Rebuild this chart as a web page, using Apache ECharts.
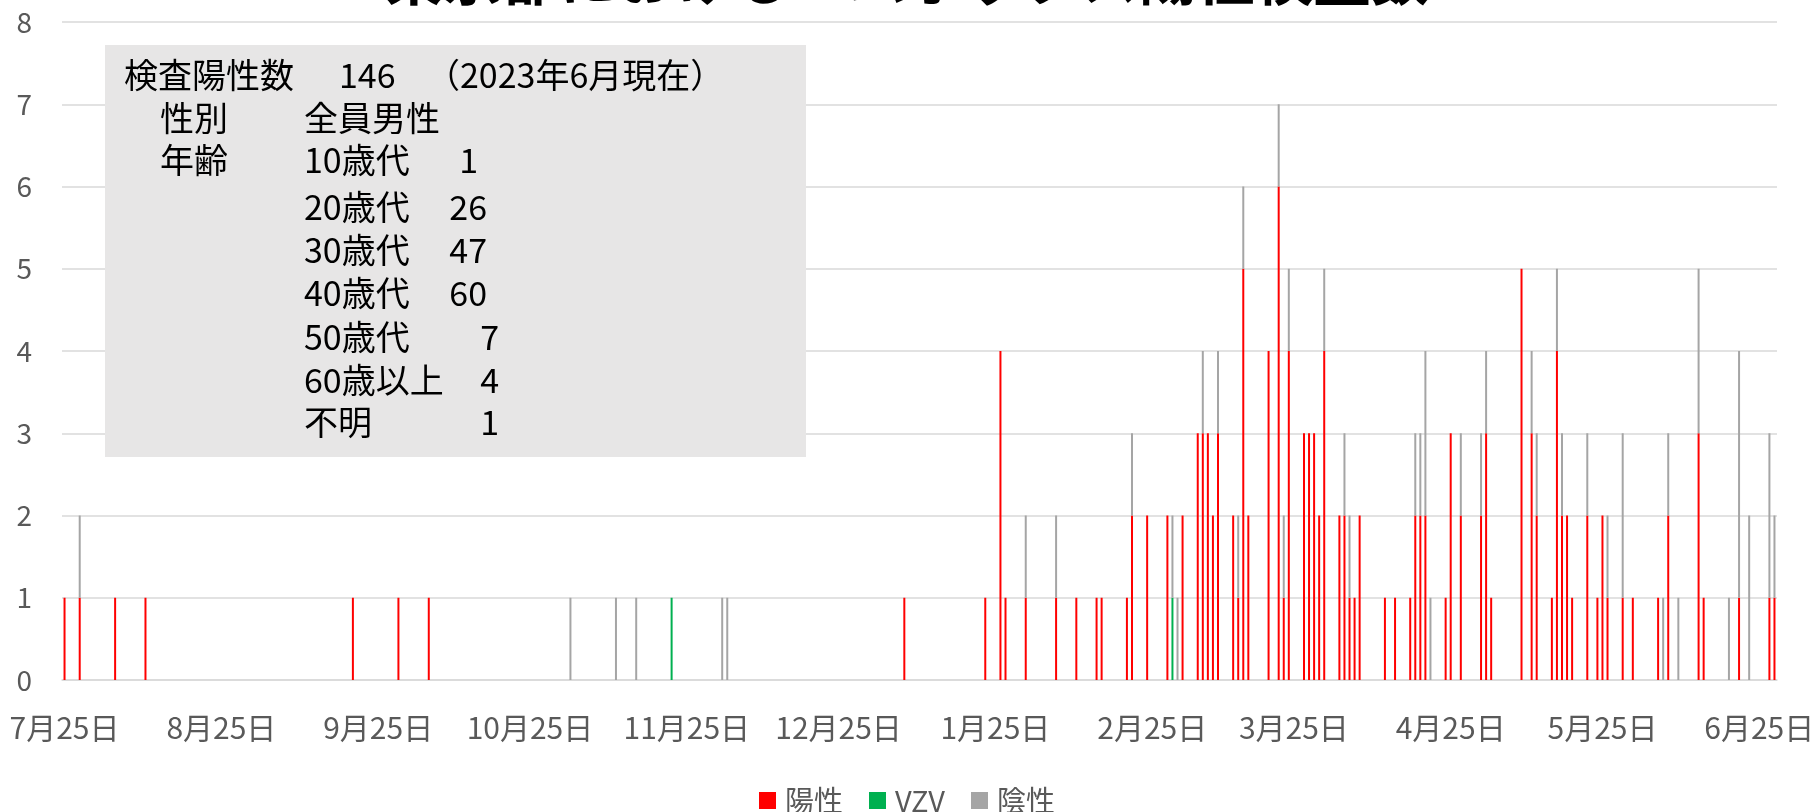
<!DOCTYPE html>
<html>
<head>
<meta charset="utf-8">
<script src="https://cdn.jsdelivr.net/npm/echarts@6/dist/echarts.min.js"></script>
<style>
html,body{margin:0;padding:0;background:#fff;}
#chart{width:1814px;height:812px;}
</style>
</head>
<body>
<div id="chart"></div>
<script>
// 日付の範囲 (日次)
const startDate = '2022-07-25';
const endDate = '2023-06-28';

// 陽性
const posDates = ['2022-07-25','2022-07-28','2022-08-04','2022-08-10','2022-09-20','2022-09-29','2022-10-05',
  '2023-01-07','2023-01-23','2023-01-26','2023-01-27','2023-01-31','2023-02-06','2023-02-10','2023-02-14',
  '2023-02-15','2023-02-20','2023-02-21','2023-02-24','2023-02-28','2023-03-03','2023-03-06','2023-03-07',
  '2023-03-08','2023-03-09','2023-03-10','2023-03-13','2023-03-14','2023-03-15','2023-03-16','2023-03-20',
  '2023-03-22','2023-03-23','2023-03-24','2023-03-27','2023-03-28','2023-03-29','2023-03-30','2023-03-31',
  '2023-04-03','2023-04-04','2023-04-05','2023-04-06','2023-04-07','2023-04-12','2023-04-14','2023-04-17',
  '2023-04-18','2023-04-19','2023-04-20','2023-04-24','2023-04-25','2023-04-27','2023-05-01','2023-05-02',
  '2023-05-03','2023-05-09','2023-05-11','2023-05-12','2023-05-15','2023-05-16','2023-05-17','2023-05-18',
  '2023-05-19','2023-05-22','2023-05-24','2023-05-25','2023-05-26','2023-05-29','2023-05-31','2023-06-05',
  '2023-06-07','2023-06-13','2023-06-14','2023-06-21','2023-06-27','2023-06-28'];
const posValues = [1,1,1,1,1,1,1,
  1,1,4,1,1,1,1,1,
  1,1,2,2,2,2,3,3,
  3,2,3,2,1,5,2,4,
  6,1,4,3,3,3,2,4,
  2,2,1,1,2,1,1,1,
  2,2,2,1,3,2,2,3,
  1,5,3,2,1,4,2,2,
  1,2,1,2,1,1,1,1,
  2,3,1,1,1,1];

// VZV
const vzvDates = ['2022-11-22','2023-03-01'];
const vzvValues = [1,1];

// 陰性
const negDates = ['2022-07-28','2022-11-02','2022-11-11','2022-11-15','2022-12-02','2022-12-03','2023-01-31',
  '2023-02-06','2023-02-21','2023-03-01','2023-03-02','2023-03-07','2023-03-10','2023-03-14','2023-03-15',
  '2023-03-22','2023-03-23','2023-03-24','2023-03-31','2023-04-04','2023-04-05','2023-04-18','2023-04-19',
  '2023-04-20','2023-04-21','2023-04-27','2023-05-01','2023-05-02','2023-05-11','2023-05-12','2023-05-16',
  '2023-05-17','2023-05-22','2023-05-26','2023-05-29','2023-06-06','2023-06-07','2023-06-09','2023-06-13',
  '2023-06-19','2023-06-21','2023-06-23','2023-06-27','2023-06-28'];
const negValues = [1,1,1,1,1,1,1,
  1,1,1,1,1,1,1,1,
  1,1,1,1,1,1,1,1,
  2,1,1,1,1,1,1,1,
  1,1,1,2,1,1,1,2,
  1,3,2,2,1];

const yTicks = [0,1,2,3,4,5,6,7,8];

const titleText = '東京都におけるエムポックス陽性検査数';
const boxLines = [
  ['検査陽性数', '146', '（2023年6月現在）'],
  ['性別', '全員男性', ''],
  ['年齢', '10歳代', '1'],
  ['', '20歳代', '26'],
  ['', '30歳代', '47'],
  ['', '40歳代', '60'],
  ['', '50歳代', '7'],
  ['', '60歳以上', '4'],
  ['', '不明', '1']
];

// 日付カテゴリ
function pad(n){ return n < 10 ? '0' + n : '' + n; }
let categories = [];
let d = new Date(startDate + 'T00:00:00Z');
const last = new Date(endDate + 'T00:00:00Z');
while(d <= last){
  categories.push(d.getUTCFullYear() + '-' + pad(d.getUTCMonth() + 1) + '-' + pad(d.getUTCDate()));
  d = new Date(d.getTime() + 86400000);
}
function toSeries(dates, values){
  let arr = categories.map(function(){ return null; });
  for(let i = 0; i < dates.length; i++){
    let k = categories.indexOf(dates[i]);
    if(k != -1) arr[k] = values[i];
  }
  return arr;
}

const font = '"Noto Sans CJK JP", "Noto Sans", sans-serif';
const boxFont = '34px "Noto Sans CJK JP", "Noto Sans", sans-serif';

let graphics = [
  {
    type: 'text', left: 'center', top: -51, z: 50,
    style: { text: titleText, font: 'bold 58px "Noto Sans CJK JP", sans-serif', fill: '#000' }
  },
  {
    type: 'rect', z: 100,
    shape: { x: 105, y: 45, width: 701, height: 412 },
    style: { fill: '#e7e6e6' }
  }
];
const rowY = [75, 118, 160, 207, 250, 293, 337, 380, 422];
for(let i = 0; i < boxLines.length; i++){
  let row = boxLines[i];
  if(row[0]) graphics.push({ type:'text', z:101, x: i == 0 ? 124 : 160, y: rowY[i],
    style:{ text: row[0], font: boxFont, fill:'#000', textVerticalAlign:'middle' } });
  if(i == 0){
    graphics.push({ type:'text', z:101, x: 339, y: rowY[i], style:{ text: row[1], font: boxFont, fill:'#000', textVerticalAlign:'middle' } });
    graphics.push({ type:'text', z:101, x: 426, y: rowY[i], style:{ text: row[2], font: boxFont, fill:'#000', textVerticalAlign:'middle' } });
  } else {
    graphics.push({ type:'text', z:101, x: 304, y: rowY[i], style:{ text: row[1], font: boxFont, fill:'#000', textVerticalAlign:'middle' } });
    if(row[2]) graphics.push({ type:'text', z:101, x: row[2].length > 1 ? 487 : (i == 2 ? 478 : 499), y: rowY[i],
      style:{ text: row[2], font: boxFont, fill:'#000', textAlign:'right', textVerticalAlign:'middle' } });
  }
}

const chart = echarts.init(document.getElementById('chart'));
const option = {
  animation: false,
  backgroundColor: '#fff',
  grid: { left: 62, right: 37, top: 22, bottom: 132, containLabel: false, outerBoundsMode: 'none' },
  legend: {
    data: ['陽性', 'VZV', '陰性'],
    top: 781, left: 'center',
    icon: 'rect', itemWidth: 17, itemHeight: 17, itemGap: 26,
    textStyle: { fontSize: 29, color: '#595959', fontFamily: font, padding: [0, 0, 0, 4] }
  },
  xAxis: {
    type: 'category',
    data: categories,
    boundaryGap: true,
    axisLine: { lineStyle: { color: '#d9d9d9', width: 1.5 } },
    axisTick: { show: false },
    axisLabel: {
      interval: function(i, v){ return v.slice(8) == '25'; },
      formatter: function(v){ return parseInt(v.slice(5, 7)) + '月' + parseInt(v.slice(8)) + '日'; },
      fontSize: 30, color: '#595959', fontFamily: font, margin: 33
    }
  },
  yAxis: {
    type: 'value', min: yTicks[0], max: yTicks[yTicks.length - 1], interval: 1,
    axisLine: { show: false },
    axisTick: { show: false },
    splitLine: { lineStyle: { color: '#d9d9d9', width: 1.5 } },
    axisLabel: { fontSize: 28, color: '#595959', fontFamily: font, margin: 30 }
  },
  series: [
    { name: '陽性', type: 'bar', stack: 'total', barWidth: 2, itemStyle: { color: '#ff0000' }, data: toSeries(posDates, posValues) },
    { name: 'VZV', type: 'bar', stack: 'total', barWidth: 2, itemStyle: { color: '#00b050' }, data: toSeries(vzvDates, vzvValues) },
    { name: '陰性', type: 'bar', stack: 'total', barWidth: 2, itemStyle: { color: '#a5a5a5' }, data: toSeries(negDates, negValues) }
  ],
  graphic: graphics
};
chart.setOption(option);
</script>
</body>
</html>
